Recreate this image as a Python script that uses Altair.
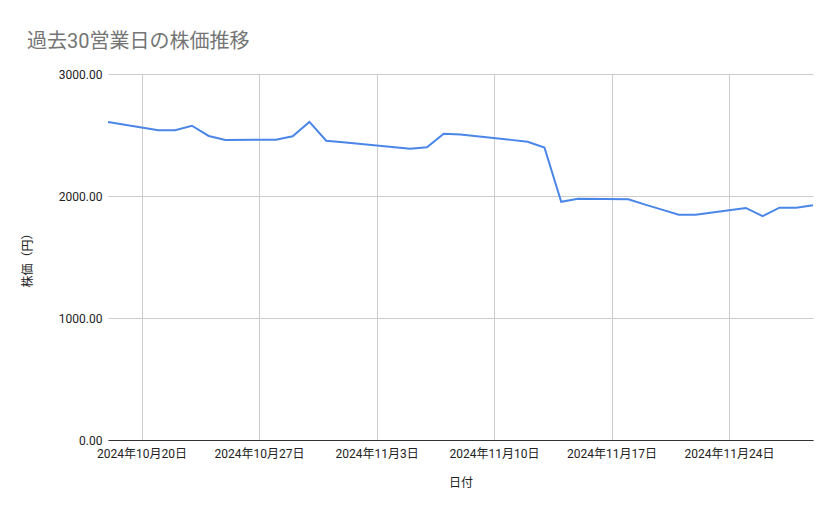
import altair as alt
import pandas as pd

dates = [
    "2024-10-18", "2024-10-21", "2024-10-22", "2024-10-23", "2024-10-24",
    "2024-10-25", "2024-10-28", "2024-10-29", "2024-10-30", "2024-10-31",
    "2024-11-01", "2024-11-05", "2024-11-06", "2024-11-07", "2024-11-08",
    "2024-11-11", "2024-11-12", "2024-11-13", "2024-11-14", "2024-11-15",
    "2024-11-18", "2024-11-19", "2024-11-20", "2024-11-21", "2024-11-22",
    "2024-11-25", "2024-11-26", "2024-11-27", "2024-11-28", "2024-11-29",
]
prices = [
    2607, 2539, 2539, 2576, 2492,
    2459, 2462, 2489, 2607, 2453,
    2440, 2387, 2399, 2511, 2505,
    2460, 2445, 2398, 1953, 1978,
    1973, 1929, 1888, 1847, 1847,
    1902, 1835, 1904, 1904, 1924,
]
tick_dates = ["2024-10-20", "2024-10-27", "2024-11-03", "2024-11-10", "2024-11-17", "2024-11-24"]
y_ticks = [0, 1000, 2000, 3000]

df = pd.DataFrame({"date": dates, "price": prices})

FONT = "Roboto, 'Noto Sans CJK JP', sans-serif"

def dt(s):
    y, m, d = (int(p) for p in s.split("-"))
    return alt.DateTime(year=y, month=m, date=d, utc=True)

label_expr = (
    "utcFormat(datum.value, '%Y') + '年' + (utcmonth(datum.value) + 1) + '月' "
    "+ utcdate(datum.value) + '日'"
)

chart = alt.Chart(df).mark_line(color="#4a86e8", strokeWidth=2).encode(
    x=alt.X(
        "date:T",
        scale=alt.Scale(type="utc", domain=[dt("2024-10-18"), dt("2024-11-29")], nice=False),
        axis=alt.Axis(
            values=[dt(s) for s in tick_dates],
            labelExpr=label_expr,
            grid=True, gridColor="#cccccc",
            domain=True, domainColor="#333333",
            ticks=False,
            labelPadding=8, labelFontSize=12, labelColor="#222222", labelFont=FONT,
            title="日付", titleFont=FONT, titleFontSize=12, titleFontWeight="normal",
            titleColor="#222222", titlePadding=18,
        ),
    ),
    y=alt.Y(
        "price:Q",
        scale=alt.Scale(domain=[0, 3000], nice=False),
        axis=alt.Axis(
            values=y_ticks, format=".2f",
            grid=True, gridColor="#cccccc",
            domain=False, ticks=False,
            labelPadding=6, labelFontSize=12, labelColor="#222222", labelFont=FONT,
            title="株価（円）", titleFont=FONT, titleFontSize=12, titleFontWeight="normal",
            titleColor="#222222", titlePadding=24,
        ),
    ),
).properties(
    width=705, height=366,
    autosize=alt.AutoSizeParams(type="none"),
    padding={"left": 100, "top": 66, "right": 18, "bottom": 71},
    title=alt.TitleParams(
        "過去30営業日の株価推移", anchor="start", frame="group",
        fontSize=20, font=FONT, fontWeight="normal", color="#757575", dx=-81, dy=-12,
    ),
).configure_view(stroke="transparent")

chart.save("out.html", embed_options={"renderer": "svg", "actions": False})
